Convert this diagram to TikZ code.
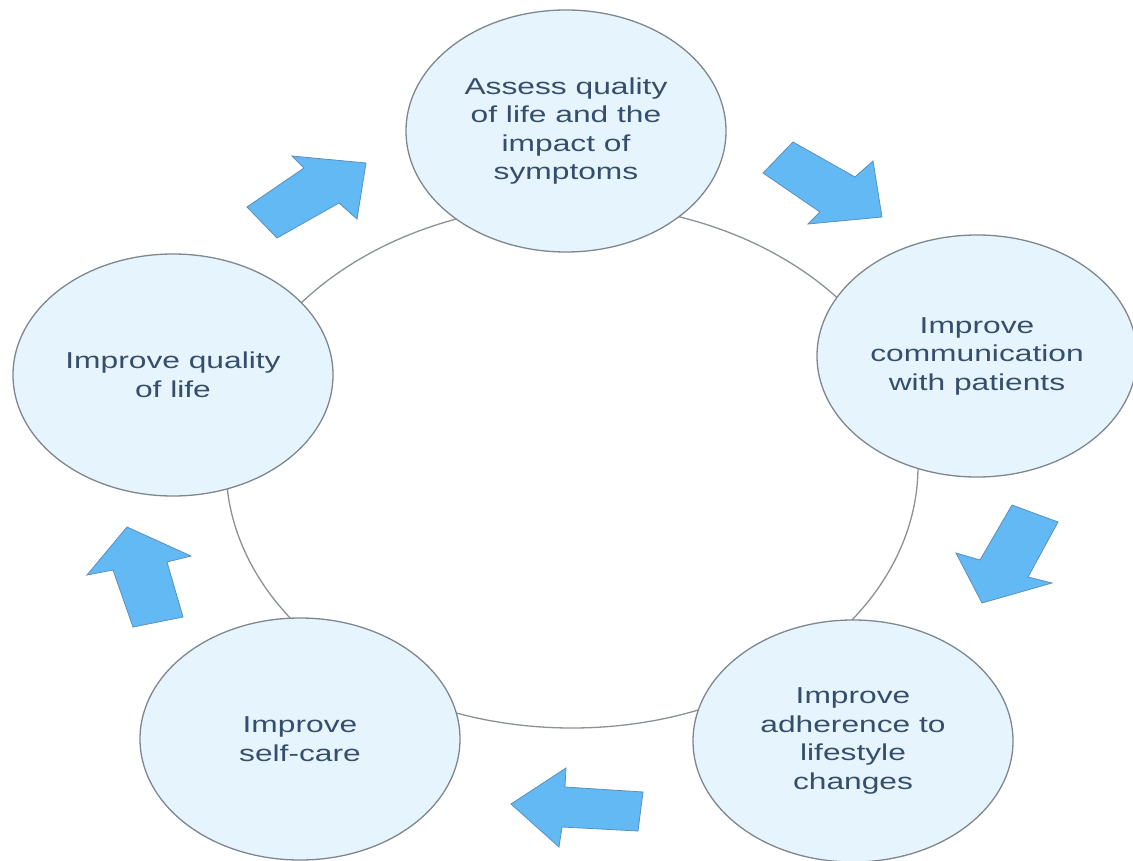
\documentclass[tikz,border=0pt]{standalone}
\usepackage{fontspec}
\setmainfont{Liberation Sans}[FakeStretch=1.38]
\usetikzlibrary{shapes.geometric}

\definecolor{ringgray}{HTML}{8A9298}
\definecolor{bubblefill}{HTML}{E6F5FD}
\definecolor{bubbleline}{HTML}{7F878E}
\definecolor{labelblue}{HTML}{364E6C}
\definecolor{arrowfill}{HTML}{63B9F3}
\definecolor{arrowline}{HTML}{5A8FC0}

\tikzset{
  stage/.style={ellipse, draw=bubbleline, line width=1.3pt, fill=bubblefill,
    minimum width=320pt, minimum height=242pt, inner sep=0pt,
    align=center, text=labelblue, font=\fontsize{23}{28.5}\selectfont},
  cycle ring/.style={ellipse, draw=ringgray, line width=1.3pt,
    minimum width=692pt, minimum height=524pt, inner sep=0pt},
  blockarrow/.style={fill=arrowfill, draw=arrowline, line width=0.8pt, line join=miter}
}

\begin{document}
\begin{tikzpicture}[x=1pt, y=-1pt]
  \useasboundingbox[fill=white] (0,0) rectangle (1133,861);

  % the cycle behind the stages
  \node[cycle ring] (ring) at (572,466) {};

  % stages
  \node[stage] (assess) at (566,131) {Assess quality\\of life and the\\impact of\\symptoms};
  \node[stage] (comm)   at (977,356) {Improve\\communication\\with patients};
  \node[stage] (adhere) at (853,741) {Improve\\adherence to\\lifestyle\\changes};
  \node[stage] (self)   at (300,739) {Improve\\self-care};
  \node[stage] (qol)    at (173,375) {Improve quality\\of life};

  % block arrows showing the direction of the cycle
  \draw[blockarrow] (277,238) -- (339,203) -- (357,219) -- (366,163)
                    -- (292,156) -- (304,168) -- (247,207) -- cycle;
  \draw[blockarrow] (793,142) -- (855,177) -- (873,161) -- (882,217)
                    -- (808,224) -- (820,212) -- (763,173) -- cycle;
  \draw[blockarrow] (1012,505) -- (1058,522) -- (1028,577) -- (1052,583)
                    -- (982,603) -- (956,553) -- (980,560) -- cycle;
  \draw[blockarrow] (643,792) -- (638,831) -- (562,827) -- (559,847)
                    -- (511,804) -- (566,768) -- (565,787) -- cycle;
  \draw[blockarrow] (133,627) -- (183,617) -- (167,562) -- (191,556)
                    -- (127,527) -- (87,575) -- (113,570) -- cycle;
\end{tikzpicture}
\end{document}
